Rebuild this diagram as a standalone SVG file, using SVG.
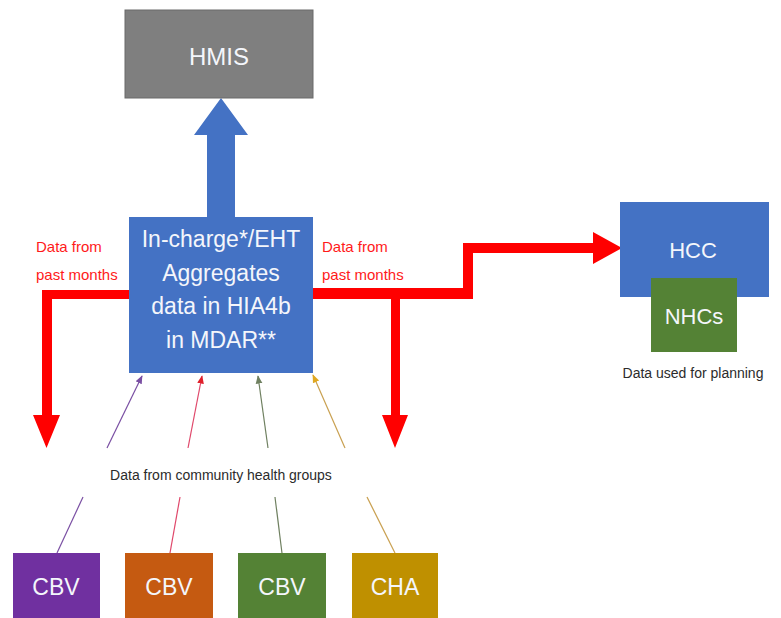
<svg xmlns="http://www.w3.org/2000/svg" width="781" height="618" viewBox="0 0 781 618">
  <defs>
    <style>
      .box-text { font-family: "Liberation Sans", Arial, sans-serif; fill: #f4f6fb; text-anchor: middle; }
      .note { font-family: "Liberation Sans", Arial, sans-serif; font-size: 14px; fill: #2b2b2b; text-anchor: middle; }
      .red-note { font-family: "Liberation Sans", Arial, sans-serif; font-size: 15px; fill: #ff1a1a; }
      .thin { stroke-width: 1.2; fill: none; }
      .flow { fill: #ff0000; }
    </style>
    <marker id="tip-purple" viewBox="0 0 10 10" refX="9" refY="5" markerWidth="7" markerHeight="7" orient="auto">
      <path d="M0,1 L10,5 L0,9 z" fill="#7a4fa3"/>
    </marker>
    <marker id="tip-red" viewBox="0 0 10 10" refX="9" refY="5" markerWidth="7" markerHeight="7" orient="auto">
      <path d="M0,1 L10,5 L0,9 z" fill="#e0202a"/>
    </marker>
    <marker id="tip-green" viewBox="0 0 10 10" refX="9" refY="5" markerWidth="7" markerHeight="7" orient="auto">
      <path d="M0,1 L10,5 L0,9 z" fill="#6f8060"/>
    </marker>
    <marker id="tip-gold" viewBox="0 0 10 10" refX="9" refY="5" markerWidth="7" markerHeight="7" orient="auto">
      <path d="M0,1 L10,5 L0,9 z" fill="#e0a820"/>
    </marker>
  </defs>

  <rect width="781" height="618" fill="#ffffff"/>

  <!-- connectors -->
  <g id="connectors">
    <!-- upload to HMIS -->
    <polygon points="207,217 207,135 194,135 221,98 248,135 235,135 235,217" fill="#4472c4"/>
    <!-- feedback to the left -->
    <path class="flow" d="M129,290 L129,299 L52,299 L52,415 L60,415 L46.5,448 L33,415 L42,415 L42,290 Z"/>
    <!-- feedback to the right and on to HCC -->
    <path class="flow" d="M313,288 L463,288 L463,243 L593,243 L593,232 L622,248 L593,264 L593,253 L473,253 L473,299 L400,299 L400,415 L408,415 L395,448 L382,415 L391,415 L391,299 L313,299 Z"/>
    <!-- community reports into the facility -->
    <line class="thin" x1="57" y1="553" x2="83" y2="497" stroke="#7a4fa3"/>
    <line class="thin" x1="107" y1="448" x2="142" y2="376" stroke="#7a4fa3" marker-end="url(#tip-purple)"/>
    <line class="thin" x1="170" y1="553" x2="180" y2="497" stroke="#e0476a"/>
    <line class="thin" x1="188" y1="448" x2="202" y2="376" stroke="#e0476a" marker-end="url(#tip-red)"/>
    <line class="thin" x1="282" y1="553" x2="275" y2="497" stroke="#6f8060"/>
    <line class="thin" x1="268" y1="448" x2="258" y2="376" stroke="#6f8060" marker-end="url(#tip-green)"/>
    <line class="thin" x1="395" y1="553" x2="367" y2="497" stroke="#c9a050"/>
    <line class="thin" x1="345" y1="448" x2="313" y2="375" stroke="#c9a050" marker-end="url(#tip-gold)"/>
  </g>

  <g id="label-left">
    <text class="red-note" x="36" y="252">Data from</text>
    <text class="red-note" x="36" y="280">past months</text>
  </g>
  <g id="label-right">
    <text class="red-note" x="322" y="252">Data from</text>
    <text class="red-note" x="322" y="280">past months</text>
  </g>
  <g id="label-community">
    <text class="note" x="221" y="480" font-size="15">Data from community health groups</text>
  </g>

  <g id="hmis">
    <rect x="125" y="10" width="188" height="88" fill="#7f7f7f" stroke="#6a6a6a" stroke-width="1"/>
    <text class="box-text" x="219" y="65" font-size="24">HMIS</text>
  </g>

  <g id="facility">
    <rect x="129" y="217" width="184" height="156" fill="#4472c4"/>
    <text class="box-text" x="221" y="247" font-size="23">In-charge*/EHT</text>
    <text class="box-text" x="221" y="281" font-size="23">Aggregates</text>
    <text class="box-text" x="221" y="314" font-size="23">data in HIA4b</text>
    <text class="box-text" x="221" y="348" font-size="23">in MDAR**</text>
  </g>

  <g id="hcc">
    <rect x="620" y="202" width="149" height="95" fill="#4472c4"/>
    <text class="box-text" x="693" y="258" font-size="22">HCC</text>
  </g>

  <g id="nhcs">
    <rect x="651" y="278" width="86" height="74" fill="#548235"/>
    <text class="box-text" x="694" y="324" font-size="22">NHCs</text>
    <text class="note" x="693" y="378">Data used for planning</text>
  </g>

  <g id="cbv-1">
    <rect x="13" y="553" width="87" height="65" fill="#7030a0"/>
    <text class="box-text" x="56" y="595" font-size="23">CBV</text>
  </g>
  <g id="cbv-2">
    <rect x="125" y="553" width="88" height="65" fill="#c55a11"/>
    <text class="box-text" x="169" y="595" font-size="23">CBV</text>
  </g>
  <g id="cbv-3">
    <rect x="238" y="553" width="88" height="65" fill="#548235"/>
    <text class="box-text" x="282" y="595" font-size="23">CBV</text>
  </g>
  <g id="cha">
    <rect x="352" y="553" width="86" height="65" fill="#bf9000"/>
    <text class="box-text" x="395" y="595" font-size="23">CHA</text>
  </g>
</svg>
